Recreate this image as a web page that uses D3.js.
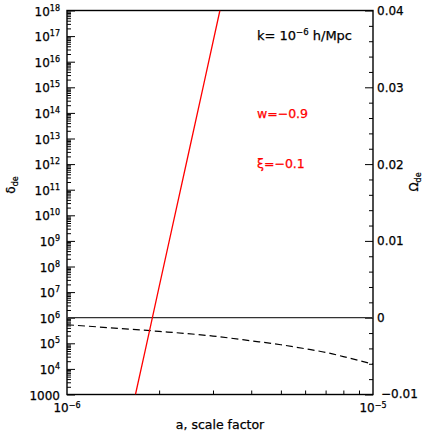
<!DOCTYPE html>
<html>
<head>
<meta charset="utf-8">
<script src="https://cdn.jsdelivr.net/npm/d3@7"></script>
<style>
  body { margin: 0; background: #fff; }
  text { font-family: "DejaVu Sans", sans-serif; fill: #000; stroke: #000; stroke-width: 0.25px; }
</style>
</head>
<body>
<div id="chart"></div>
<script>
// data
var deltaA = [1.674e-6, 1.8e-6, 2.0e-6, 2.2e-6, 2.5e-6, 2.8e-6, 3.16e-6];
var deltaDe = [1e3, 5.1e4, 1.6e7, 2.8e9, 2.9e12, 1.35e15, 1e18];

var omegaA = [1e-6, 1.5e-6, 2e-6, 3e-6, 4e-6, 5e-6, 6e-6, 7e-6, 8e-6, 9e-6, 1e-5];
var omegaDe = [-0.00092, -0.00141, -0.00178, -0.00239, -0.00301, -0.00352, -0.00404, -0.00451, -0.00506, -0.00557, -0.00604];

var leftExps = [3, 4, 5, 6, 7, 8, 9, 10, 11, 12, 13, 14, 15, 16, 17, 18];
var rightTicks = [-0.01, 0, 0.01, 0.02, 0.03, 0.04];
var rightLabels = ["\u22120.01", "0", "0.01", "0.02", "0.03", "0.04"];

var svgWidth = 436, svgHeight = 436;
var margin = { top: 10.5, right: 63, bottom: 41.5, left: 67 };
var width = svgWidth - margin.left - margin.right;
var height = svgHeight - margin.top - margin.bottom;

var svg = d3.select("#chart").append("svg")
  .attr("width", svgWidth)
  .attr("height", svgHeight);

var g = svg.append("g")
  .attr("transform", `translate(${margin.left}, ${margin.top})`);

var x = d3.scaleLog().domain([1e-6, 1e-5]).range([0, width]);
var yL = d3.scaleLog().domain([1e3, 1e18]).range([height, 0]);
var yR = d3.scaleLinear().domain([-0.01, 0.04]).range([height, 0]);

g.append("clipPath").attr("id", "clip")
  .append("rect").attr("width", width).attr("height", height);

// minor tick positions
var leftMinor = [];
leftExps.slice(0, -1).forEach(function (e) {
  for (var m = 2; m <= 9; m++) leftMinor.push(m * Math.pow(10, e));
});
var bottomMinor = d3.range(2, 10).map(function (m) { return m * 1e-6; });
var rightMinor = d3.range(-0.01, 0.0401, 0.002).filter(function (v) {
  return Math.abs(Math.round(v * 100) - v * 100) > 1e-6;
});

// axes (ticks pointing inward)
g.append("g")
  .call(d3.axisLeft(yL).tickValues(leftExps.map(function (e) { return Math.pow(10, e); }))
    .tickSize(-8).tickFormat(""));
g.append("g")
  .call(d3.axisLeft(yL).tickValues(leftMinor).tickSize(-4).tickFormat(""));
g.append("g")
  .attr("transform", `translate(${width}, 0)`)
  .call(d3.axisRight(yR).tickValues(rightTicks).tickSize(-8).tickFormat(""));
g.append("g")
  .attr("transform", `translate(${width}, 0)`)
  .call(d3.axisRight(yR).tickValues(rightMinor).tickSize(-4).tickFormat(""));
g.append("g")
  .attr("transform", `translate(0, ${height})`)
  .call(d3.axisBottom(x).tickValues(bottomMinor).tickSize(-4).tickFormat(""));

g.selectAll(".domain").remove();
g.selectAll(".tick line").attr("stroke", "#000").attr("stroke-width", 1);

// frame
g.append("rect")
  .attr("width", width).attr("height", height)
  .attr("fill", "none").attr("stroke", "#000").attr("stroke-width", 1.4);

// left tick labels
leftExps.forEach(function (e) {
  var t = g.append("text")
    .attr("x", -7)
    .attr("y", yL(Math.pow(10, e)) + 5)
    .attr("text-anchor", "end")
    .attr("font-size", "12px");
  if (e === 3) {
    t.text("1000");
  } else {
    t.append("tspan").text("10");
    t.append("tspan").attr("font-size", "8px").attr("dy", -5).text(e);
  }
});

// right tick labels
rightTicks.forEach(function (v, i) {
  g.append("text")
    .attr("x", width + (v < 0 ? 8 : 4))
    .attr("y", yR(v) + (v < 0 ? 3 : 4.5))
    .attr("font-size", "12px")
    .text(rightLabels[i]);
});

// bottom tick labels
[[1e-6, "\u22126"], [1e-5, "\u22125"]].forEach(function (d) {
  var t = g.append("text")
    .attr("x", x(d[0]))
    .attr("y", height + 17.5)
    .attr("text-anchor", "middle")
    .attr("font-size", "12px");
  t.append("tspan").text("10");
  t.append("tspan").attr("font-size", "8px").attr("dy", -4).text(d[1]);
});

// axis titles
g.append("text")
  .attr("x", width / 2)
  .attr("y", height + 34)
  .attr("text-anchor", "middle")
  .attr("font-size", "12.5px")
  .text("a, scale factor");

var yt = g.append("text")
  .attr("transform", `translate(${15 - margin.left}, ${185 - margin.top}) rotate(-90)`)
  .attr("text-anchor", "middle")
  .attr("font-size", "12px");
yt.append("tspan").text("\u03b4");
yt.append("tspan").attr("font-size", "8px").attr("dy", 3).text("de");

var yt2 = g.append("text")
  .attr("transform", `translate(${418 - margin.left}, ${182 - margin.top}) rotate(-90)`)
  .attr("text-anchor", "middle")
  .attr("font-size", "12px");
yt2.append("tspan").text("\u03a9");
yt2.append("tspan").attr("font-size", "8px").attr("dy", 3).text("de");

// zero line
g.append("line")
  .attr("x1", 0).attr("x2", width)
  .attr("y1", yR(0)).attr("y2", yR(0))
  .attr("stroke", "#333").attr("stroke-width", 1.2);

var plot = g.append("g").attr("clip-path", "url(#clip)");

// Omega_de dashed line
var omegaData = omegaA.map(function (a, i) { return [a, omegaDe[i]]; });
plot.append("path")
  .datum(omegaData)
  .attr("fill", "none")
  .attr("stroke", "#000")
  .attr("stroke-width", 1.2)
  .attr("stroke-dasharray", "7,4")
  .attr("d", d3.line().curve(d3.curveMonotoneX)
    .x(function (d) { return x(d[0]); })
    .y(function (d) { return yR(d[1]); }));

// delta_de red line
var deltaData = deltaA.map(function (a, i) { return [a, deltaDe[i]]; });
plot.append("path")
  .datum(deltaData)
  .attr("fill", "none")
  .attr("stroke", "#ff0000")
  .attr("stroke-width", 1.3)
  .attr("d", d3.line()
    .x(function (d) { return x(d[0]); })
    .y(function (d) { return yL(d[1]); }));

// annotations
var k = g.append("text")
  .attr("x", 257 - margin.left).attr("y", 40 - margin.top)
  .attr("font-size", "13px");
k.append("tspan").text("k= 10");
k.append("tspan").attr("font-size", "8.5px").attr("dy", -5).text("\u22126");
k.append("tspan").attr("dy", 5).text(" h/Mpc");

g.append("text")
  .attr("x", 257 - margin.left).attr("y", 117.5 - margin.top)
  .attr("font-size", "12.5px")
  .style("fill", "#ff0000").style("stroke", "#ff0000")
  .text("w=\u22120.9");

g.append("text")
  .attr("x", 257 - margin.left).attr("y", 167.5 - margin.top)
  .attr("font-size", "12.5px")
  .style("fill", "#ff0000").style("stroke", "#ff0000")
  .text("\u03be=\u22120.1");
</script>
</body>
</html>
